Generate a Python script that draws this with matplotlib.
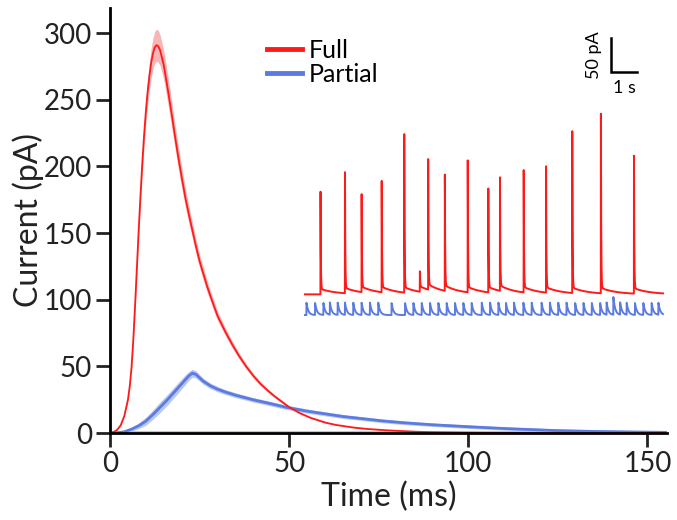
import numpy as np
import matplotlib.pyplot as plt

# =====================================================
# DATA
# =====================================================
# mean evoked current, full stimulation
full_t = [0, 1, 2, 3, 4, 5, 5.5, 6, 6.5, 7, 7.5, 8, 8.5, 9, 9.5, 10, 10.5,
          11, 11.5, 12, 12.5, 13, 13.5, 14, 15, 16, 17, 18, 19, 20, 21, 22,
          23, 24, 25, 26, 27, 28, 29, 30, 32, 34, 36, 38, 40, 42, 44, 46, 48,
          50, 53, 56, 60, 63, 68, 72, 77, 82, 86, 90, 100, 115, 130, 155]
full_i = [0, 0.8, 2.5, 6, 13, 25, 35, 49, 70, 96, 124, 152, 178, 202, 223,
          241, 256, 268, 278, 285, 289.5, 291, 290, 287, 276, 260, 243, 225,
          208, 192, 177, 164, 152, 140, 129, 120, 111, 103, 95.5, 88, 77, 67,
          58, 50, 43, 37, 32, 27.5, 23.5, 19.5, 15, 11.5, 8, 6.2, 4.2, 3.1,
          2.2, 1.5, 1, 0.7, 0.3, 0.1, 0, 0]
full_sem = [0, 0.1, 0.2, 0.3, 0.6, 1.0, 1.5, 2, 3, 4, 5, 6, 7, 8, 8.5, 9,
            10, 10.5, 11, 11.5, 12, 12, 12, 11.5, 11, 10.5, 10, 9, 8.5, 8, 7,
            6.5, 6, 5.5, 5, 5, 4.5, 4, 4, 3.5, 3, 2.7, 2.3, 2, 1.7, 1.5, 1.3,
            1.1, 1, 0.9, 0.7, 0.6, 0.5, 0.4, 0.3, 0.2, 0.2, 0.1, 0.1, 0.1, 0,
            0, 0, 0]

# mean evoked current, partial stimulation
part_t = [0, 2, 4, 6, 8, 10, 12, 14, 16, 18, 20, 21, 22, 23, 24, 25, 26, 28,
          30, 32, 35, 40, 45, 49, 55, 60, 65, 70, 76, 82, 90, 101, 110, 124,
          135, 145, 155]
part_i = [0, 0.3, 1, 3, 5.5, 9, 14, 19.5, 25, 31, 37, 40, 43, 45, 44, 41.5,
          39, 35.5, 33, 31, 28.5, 25, 22, 19.5, 16.5, 14.5, 12.5, 11, 9.2, 7.8,
          6.3, 4.7, 3.5, 2, 1.3, 0.9, 0.6]
part_sem = [0, 0.3, 0.8, 1.5, 2.2, 3, 3.5, 4, 4, 4, 3.8, 3.6, 3.3, 3, 2.7,
            2.5, 2.3, 2.1, 2, 1.9, 1.8, 1.7, 1.7, 1.6, 1.6, 1.5, 1.5, 1.4,
            1.4, 1.4, 1.3, 1.3, 1.2, 1.2, 1.2, 1.2, 1.2]

# inset: example trace, spike times (s) and amplitudes (pA)
red_spike_t = [0.60, 1.54, 2.18, 2.95, 3.82, 4.42, 4.74, 5.38, 6.26, 7.05,
               7.50, 8.41, 9.27, 10.28, 11.38, 12.65]
red_spike_a = [143, 170, 136, 184, 225, 22, 184, 163, 186, 171, 159, 203,
               210, 230, 256, 230]
blue_spike_t = [0.06, 0.39, 0.71, 0.96, 1.26, 1.54, 1.86, 2.18, 2.50, 2.82,
                3.33, 3.85, 4.17, 4.49, 4.81, 5.13, 5.45, 5.77, 6.09, 6.41,
                6.80, 7.12, 7.44, 7.73, 8.04, 8.40, 8.72, 9.10, 9.42, 9.74,
                10.06, 10.39, 10.71, 11.03, 11.35, 11.60, 11.86, 12.12, 12.37,
                12.69, 13.01, 13.33, 13.59]
blue_spike_a = [18] * 36 + [26] + [18] * 6

RED = "#ff1a1a"
BLUE = "#5b7be0"

plt.rcParams["font.family"] = ["Lato", "DejaVu Sans"]

fig = plt.figure(figsize=(6.77, 5.2), dpi=100)
ax = fig.add_axes([0.1625, 0.167, 0.823, 0.818])

# =====================================================
# MAIN AXES
# =====================================================
ax.axhline(0.6, color=BLUE, alpha=0.45, linewidth=1.5, zorder=1)

ft = np.array(full_t)
fi = np.array(full_i)
fs = np.array(full_sem)
ax.fill_between(ft, fi - fs, fi + fs, color="#f6a3a3", alpha=0.8,
                linewidth=0, zorder=2)
ax.plot(ft, fi, color=RED, linewidth=1.3, zorder=4)

pt = np.array(part_t)
pi = np.array(part_i)
ps = np.array(part_sem)
ax.fill_between(pt, pi - ps, pi + ps, color="#a9b9ee", alpha=0.8,
                linewidth=0, zorder=2)
ax.plot(pt, pi, color=BLUE, linewidth=2, zorder=3)

ax.set_xlim(0, 155.5)
ax.set_ylim(0, 319)
ax.set_xticks([0, 50, 100, 150])
ax.set_yticks([0, 50, 100, 150, 200, 250, 300])
for side in ["top", "right"]:
    ax.spines[side].set_visible(False)
for side in ["left", "bottom"]:
    ax.spines[side].set_linewidth(2)
    ax.spines[side].set_zorder(5)
ax.tick_params(length=10, width=2, labelsize=20, colors="#222222", pad=3)
ax.set_xlabel("Time (ms)", fontsize=23, color="#222222", labelpad=3)
ax.set_ylabel("Current (pA)", fontsize=23, color="#222222", labelpad=0)

ax.plot([], [], color=RED, linewidth=3.5, label="Full")
ax.plot([], [], color=BLUE, linewidth=3.5, label="Partial")
fig.legend(loc="upper left", bbox_to_anchor=(0.376, 0.95), frameon=False,
           fontsize=18, handlelength=1.4, handletextpad=0.25,
           labelspacing=0.05, borderpad=0)

# =====================================================
# INSET TRACE
# =====================================================
ins = fig.add_axes([0.4431, 0.3654, 0.5436, 0.5962])
ins.axis("off")
ins.set_xlim(-0.19, 13.96)
ins.set_ylim(-54.4, 401.5)

tt = np.arange(0, 13.77, 0.004)
red = np.full_like(tt, -2.0)
for ts, a in zip(red_spike_t, red_spike_a):
    m = tt >= ts
    red[m] += a * np.exp(-(tt[m] - ts) / 0.012) + 8 * np.exp(-(tt[m] - ts) / 0.6)
ins.plot(tt, red, color=RED, linewidth=1.4)

blue = np.full_like(tt, -32.4)
for ts, a in zip(blue_spike_t, blue_spike_a):
    m = tt >= ts
    blue[m] += a * np.exp(-(tt[m] - ts) / 0.07)
ins.plot(tt, blue, color=BLUE, linewidth=1.4)

# scale bar: 1 s, 50 pA
ins.plot([11.77, 11.77, 12.77], [375, 325, 325], color="black",
         linewidth=1.8, solid_joinstyle="miter")
ins.text(11.1, 350, "50 pA", rotation=90, ha="center", va="center",
         fontsize=13)
ins.text(12.3, 301, "1 s", ha="center", va="center", fontsize=13)

fig.savefig("out.png", dpi=100)
